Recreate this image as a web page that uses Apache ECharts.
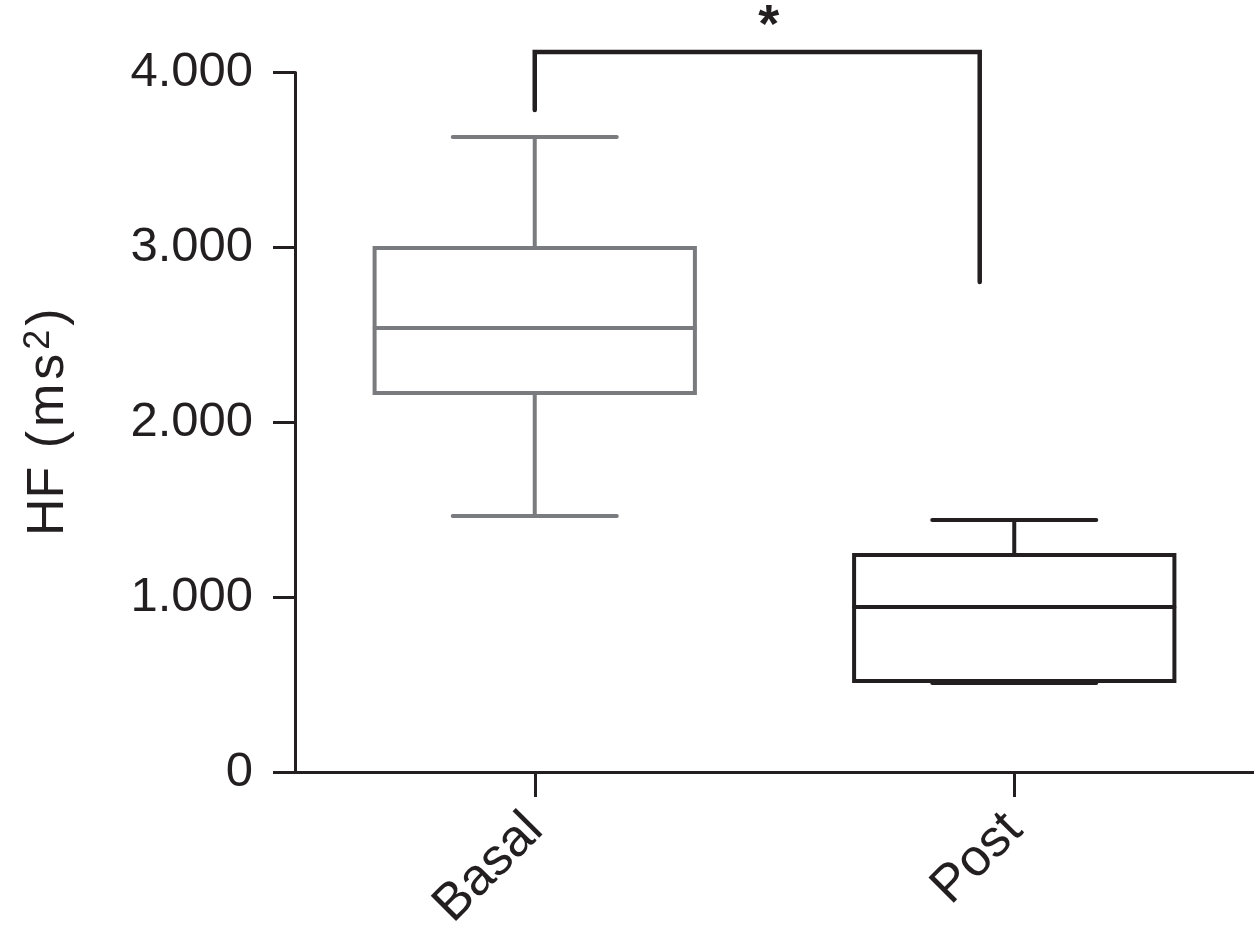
<!DOCTYPE html>
<html>
<head>
<meta charset="utf-8">
<title>HF box plot</title>
<script src="https://cdn.jsdelivr.net/npm/echarts@6/dist/echarts.min.js"></script>
<style>
    html, body { margin: 0; padding: 0; background: #fff; }
    #main { width: 1254px; height: 941px; }
</style>
</head>
<body>
<div id="main"></div>
<script>
// categories and box statistics (ms^2)
var categories = ['Basal', 'Post'];
var boxMin = [1464, 509];
var boxQ1 = [2167, 520];
var boxMedian = [2539, 944];
var boxQ3 = [2996, 1241];
var boxMax = [3631, 1441];

// y ticks
var yTicks = [0, 1000, 2000, 3000, 4000];

// significance bracket (x on a 0..1 scale between the two groups)
var bracketX = [0, 0, 0.928, 0.928];
var bracketY = [3786, 4117, 4117, 2802];
var starPoint = [0.488, 4117];
var starText = '*';

var INK = '#231f20';
var boxColors = ['#7a7b7e', INK];
var FONT = '"Liberation Sans", Arial, Helvetica, sans-serif';

function fmtThousands(v) {
    return String(v).replace(/\B(?=(\d{3})+(?!\d))/g, '.');
}

/**
 * draws one box with half width whisker caps
 */
function renderBox(params, api) {
    var idx = api.value(0);
    var band = api.size([1, 0])[0];
    var half = band * 0.334;
    var cap = band * 0.171;
    var cx = api.coord([idx, 0])[0];
    var yMin = api.coord([idx, api.value(1)])[1];
    var yQ1 = api.coord([idx, api.value(2)])[1];
    var yMed = api.coord([idx, api.value(3)])[1];
    var yQ3 = api.coord([idx, api.value(4)])[1];
    var yMax = api.coord([idx, api.value(5)])[1];
    var color = boxColors[idx];
    var st = { stroke: color, lineWidth: 4, fill: null, lineCap: 'round' };

    return {
        type: 'group',
        children: [
            { type: 'line', shape: { x1: cx, y1: yQ3, x2: cx, y2: yMax }, style: st },
            { type: 'line', shape: { x1: cx, y1: yQ1, x2: cx, y2: yMin }, style: st },
            { type: 'line', shape: { x1: cx - cap, y1: yMax, x2: cx + cap, y2: yMax }, style: st },
            { type: 'line', shape: { x1: cx - cap, y1: yMin, x2: cx + cap, y2: yMin }, style: st },
            { type: 'rect', shape: { x: cx - half, y: yQ3, width: half * 2, height: yQ1 - yQ3 },
              style: { stroke: color, lineWidth: 4, fill: '#fff', lineJoin: 'miter' } },
            { type: 'line', shape: { x1: cx - half, y1: yMed, x2: cx + half, y2: yMed }, style: st }
        ]
    };
}

/**
 * asterisk above the bracket
 */
function renderStar(params, api) {
    var p = api.coord([api.value(0), api.value(1)]);
    return {
        type: 'text',
        x: p[0],
        y: p[1] + 2,
        style: {
            text: starText,
            fill: INK,
            font: 'bold 54px ' + FONT,
            align: 'center',
            verticalAlign: 'bottom'
        }
    };
}

(function () {
    var chart = echarts.init(document.getElementById('main'));

    var boxData = categories.map(function (c, i) {
        return [i, boxMin[i], boxQ1[i], boxMedian[i], boxQ3[i], boxMax[i]];
    });
    var bracketData = bracketX.map(function (x, i) {
        return [x, bracketY[i]];
    });

    var nameTok = { fontSize: 52, lineHeight: 60, color: INK, fontFamily: FONT, verticalAlign: 'bottom', padding: [0, 2, 0, 2] };

    var option = {
        animation: false,
        backgroundColor: '#fff',
        textStyle: { fontFamily: FONT },
        grid: { left: 295, right: 0, top: 72.5, bottom: 169 },
        xAxis: [{
            type: 'category',
            data: categories,
            boundaryGap: true,
            axisLine: { lineStyle: { color: INK, width: 3 } },
            axisTick: { show: true, alignWithLabel: true, length: 25, lineStyle: { color: INK, width: 3 } },
            axisLabel: { rotate: 45, fontSize: 52, margin: 50, color: INK, fontFamily: FONT }
        }, {
            type: 'value',
            min: -0.5,
            max: 1.5,
            show: false
        }],
        yAxis: {
            type: 'value',
            min: yTicks[0],
            max: yTicks[yTicks.length - 1],
            interval: yTicks[1] - yTicks[0],
            name: '{n|HF}{n| (}{n|m}{n|s}{s|2}{n|)}',
            nameLocation: 'middle',
            nameGap: 220,
            nameTextStyle: {
                rich: {
                    n: nameTok,
                    s: { fontSize: 36, lineHeight: 60, color: INK, fontFamily: FONT, verticalAlign: 'top', padding: [6, 2, 0, 2] }
                }
            },
            splitLine: { show: false },
            axisLine: { show: true, onZero: false, lineStyle: { color: INK, width: 3 } },
            axisTick: { show: true, length: 22, lineStyle: { color: INK, width: 3 } },
            axisLabel: {
                fontSize: 49, margin: 42, color: INK, fontFamily: FONT,
                formatter: fmtThousands
            }
        },
        series: [{
            type: 'custom',
            xAxisIndex: 0,
            renderItem: renderBox,
            encode: { x: 0, y: [1, 2, 3, 4, 5] },
            data: boxData,
            clip: false,
            z: 3
        }, {
            type: 'line',
            xAxisIndex: 1,
            data: bracketData,
            symbol: 'none',
            clip: false,
            lineStyle: { color: INK, width: 4.5, cap: 'round', join: 'miter' },
            z: 4
        }, {
            type: 'custom',
            xAxisIndex: 1,
            renderItem: renderStar,
            encode: { x: 0, y: 1 },
            data: [starPoint],
            clip: false,
            z: 5
        }]
    };

    chart.setOption(option);

    window.addEventListener('resize', function () {
        chart.resize();
    });
})();
</script>
</body>
</html>
